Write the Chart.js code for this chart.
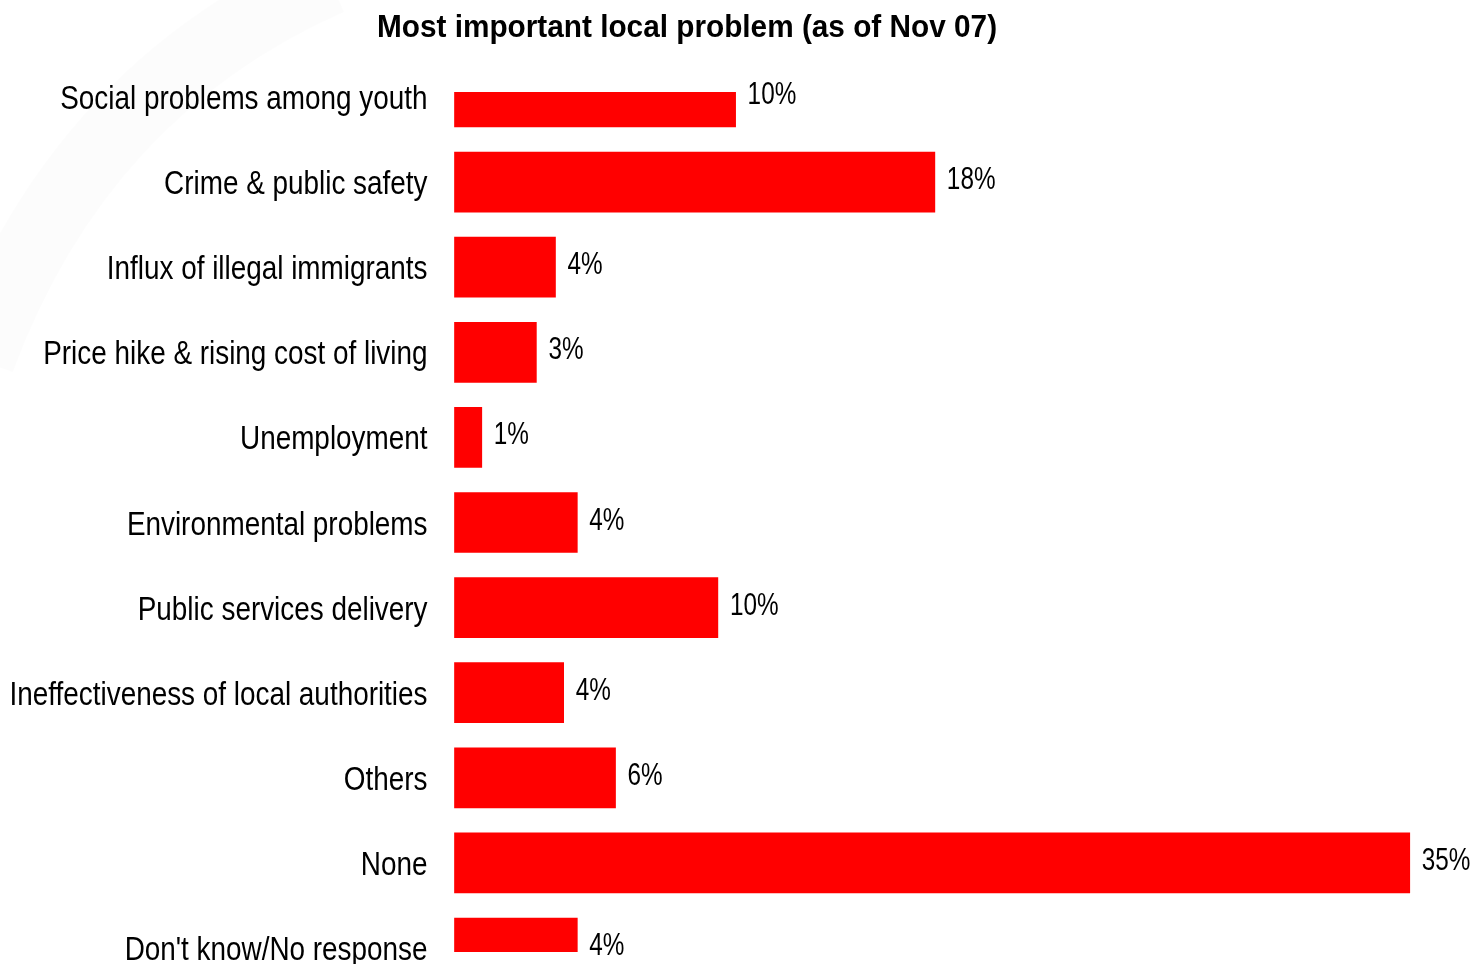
<!DOCTYPE html>
<html><head><meta charset="utf-8">
<script src="https://cdn.jsdelivr.net/npm/chart.js@4.4.1/dist/chart.umd.min.js"></script>
<style>html,body{margin:0;padding:0;background:#fff;} #wrap{width:1478px;height:964px;position:relative;}</style>
</head><body><div id="wrap"><canvas id="c"></canvas></div>
<script>
const titleText = "Most important local problem (as of Nov 07)";
const categories = [
  "Social problems among youth",
  "Crime & public safety",
  "Influx of illegal immigrants",
  "Price hike & rising cost of living",
  "Unemployment",
  "Environmental problems",
  "Public services delivery",
  "Ineffectiveness of local authorities",
  "Others",
  "None",
  "Don't know/No response"
];
const values = [10.3, 17.6, 3.7, 3.0, 1.0, 4.5, 9.65, 4.0, 5.9, 35.0, 4.5];
const valueLabels = ["10%", "18%", "4%", "3%", "1%", "4%", "10%", "4%", "6%", "35%", "4%"];

const FONT = "'Liberation Sans', Arial, sans-serif";

function narrowText(ctx, text, x, y, sx, align) {
  ctx.save();
  ctx.translate(x, y);
  ctx.scale(sx, 1);
  ctx.textAlign = align;
  ctx.fillText(text, 0, 0);
  ctx.restore();
}

const background = {
  id: 'background',
  beforeDraw(chart) {
    const ctx = chart.ctx;
    ctx.save();
    ctx.fillStyle = '#ffffff';
    ctx.fillRect(0, 0, chart.width, chart.height);
    ctx.strokeStyle = 'rgba(0,0,0,0.012)';
    ctx.lineWidth = 70;
    ctx.beginPath();
    ctx.moveTo(-20, 360);
    ctx.quadraticCurveTo(80, 90, 330, -20);
    ctx.stroke();
    ctx.restore();
  }
};

const overlay = {
  id: 'overlay',
  afterDatasetsDraw(chart) {
    const ctx = chart.ctx;
    const meta = chart.getDatasetMeta(0);
    const yScale = chart.scales.y;
    ctx.save();
    ctx.fillStyle = '#000';
    ctx.textBaseline = 'alphabetic';
    ctx.font = "32px " + FONT;
    meta.data.forEach((bar, i) => {
      narrowText(ctx, valueLabels[i], bar.x + 12, bar.y + 7, 0.76, 'left');
    });
    ctx.font = "34px " + FONT;
    chart.data.labels.forEach((lab, i) => {
      const y = yScale.getPixelForValue(i);
      narrowText(ctx, lab, yScale.right - 27, y + 12, 0.82, 'right');
    });
    ctx.font = "bold 31px " + FONT;
    narrowText(ctx, titleText, 687, 37, 0.96, 'center');
    ctx.restore();
  }
};

new Chart(document.getElementById('c'), {
  type: 'bar',
  data: {
    labels: categories,
    datasets: [{
      data: values,
      backgroundColor: '#ff0000',
      borderWidth: 0,
      barThickness: 60,
      clip: {left: false, top: 5, right: false, bottom: 4}
    }]
  },
  options: {
    indexAxis: 'y',
    responsive: true,
    maintainAspectRatio: false,
    animation: false,
    layout: {padding: {top: 97, bottom: 16, left: 0, right: 0}},
    plugins: {legend: {display: false}, tooltip: {enabled: false}, title: {display: false}},
    scales: {
      y: {
        type: 'category',
        offset: false,
        grid: {display: false, drawTicks: false},
        border: {display: false},
        ticks: {display: false, autoSkip: false},
        afterFit(s) { s.width = 454.5; s.paddingTop = 0; s.paddingBottom = 0; }
      },
      x: {min: 0, max: 37.5, display: false}
    }
  },
  plugins: [background, overlay]
});
</script></body></html>
